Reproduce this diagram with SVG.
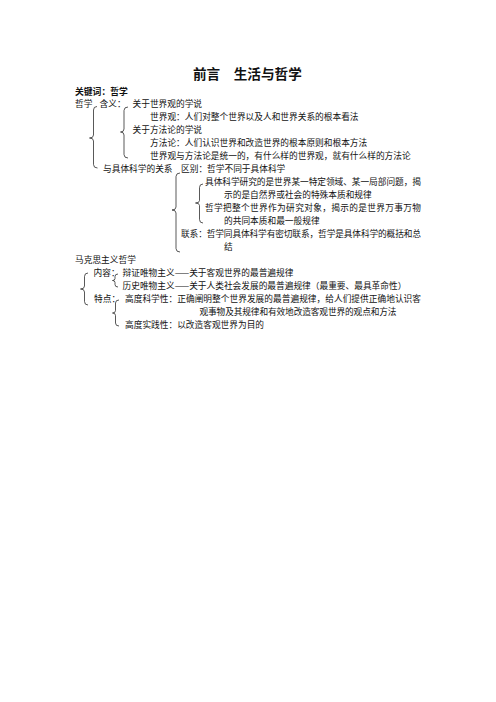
<svg xmlns="http://www.w3.org/2000/svg" width="496" height="702" viewBox="0 0 496 702">
<style>
text{font-family:"Noto Sans CJK SC","Noto Sans",sans-serif;fill:#111}
.t{font-size:8.7px}
.title{font-size:13.6px;font-weight:bold}
.kw{font-size:8.8px;font-weight:bold}
.br{fill:none;stroke:#111;stroke-width:0.7}
</style>
<rect width="496" height="702" fill="#fff"/>
<g id="title"><text class="title" x="193" y="78.5">前言　生活与哲学</text></g>
<g id="keyword"><text class="kw" x="75" y="95">关键词：哲学</text></g>
<g id="connectors">
<path class="br" d="M97,106.5 Q93.5,106.5 93.5,110 L93.5,135 Q93.5,138 89.5,138 Q93.5,138 93.5,141 L93.5,164.5 Q93.5,168 97.5,168"/>
<path class="br" d="M128,107 Q124,107 124,110.5 L124,129 Q124,132 120.5,132 Q124,132 124,135 L124,154.5 Q124,158 128,158"/>
<path class="br" d="M180,173 Q176,173 176,176.5 L176,207 Q176,210 172,210 Q176,210 176,213 L176,248.5 Q176,252 180,252"/>
<path class="br" d="M203,184 Q199.5,184 199.5,187.5 L199.5,200.5 Q199.5,203 195.5,203 Q199.5,203 199.5,205.5 L199.5,219.5 Q199.5,223 203,223"/>
<path class="br" d="M88,273 Q84.5,273 84.5,276.5 L84.5,286 Q84.5,289 80.5,289 Q84.5,289 84.5,292 L84.5,301.5 Q84.5,305 88,305"/>
<path class="br" d="M118,274 Q115,274 115,276.5 L115,278.5 Q115,280.5 112.5,280.5 Q115,280.5 115,282.5 L115,284.5 Q115,287 118,287"/>
<path class="br" d="M119,300 Q115.5,300 115.5,303 L115.5,310.5 Q115.5,313 112.5,313 Q115.5,313 115.5,315.5 L115.5,323 Q115.5,326 119,326"/>
</g>
<g id="philosophy"><text class="t" x="75" y="107.2">哲学</text></g>
<g id="meaning">
<text class="t" x="99.5" y="107.2">含义：</text>
</g>
<g id="worldview">
<text class="t" x="132.5" y="107.2">关于世界观的学说</text>
<text class="t" x="150" y="120.2">世界观：人们对整个世界以及人和世界关系的根本看法</text>
</g>
<g id="methodology">
<text class="t" x="132.5" y="133.2">关于方法论的学说</text>
<text class="t" x="150" y="146.2">方法论：人们认识世界和改造世界的根本原则和根本方法</text>
<text class="t" x="150" y="159.2">世界观与方法论是统一的，有什么样的世界观，就有什么样的方法论</text>
</g>
<g id="relation"><text class="t" x="103" y="172.2">与具体科学的关系</text></g>
<g id="difference">
<text class="t" x="181" y="172.2">区别：哲学不同于具体科学</text>
<text class="t" x="205" y="185.2" textLength="216" lengthAdjust="spacing">具体科学研究的是世界某一特定领域、某一局部问题，揭</text>
<text class="t" x="224" y="198.2">示的是自然界或社会的特殊本质和规律</text>
<text class="t" x="205" y="211.2" textLength="216" lengthAdjust="spacing">哲学把整个世界作为研究对象，揭示的是世界万事万物</text>
<text class="t" x="224" y="224.2">的共同本质和最一般规律</text>
</g>
<g id="connection">
<text class="t" x="181" y="237.2" textLength="240" lengthAdjust="spacing">联系：哲学同具体科学有密切联系，哲学是具体科学的概括和总</text>
<text class="t" x="224" y="250.2">结</text>
</g>
<g id="marxism"><text class="t" x="75" y="263.2">马克思主义哲学</text></g>
<g id="content">
<text class="t" x="93.5" y="276.2">内容：</text>
<text class="t" x="122.5" y="276.2">辩证唯物主义——关于客观世界的最普遍规律</text>
<text class="t" x="122.5" y="289.2">历史唯物主义——关于人类社会发展的最普遍规律（最重要、最具革命性）</text>
</g>
<g id="features">
<text class="t" x="94" y="302.2">特点：</text>
<text class="t" x="125" y="302.2" textLength="296" lengthAdjust="spacing">高度科学性：正确阐明整个世界发展的最普遍规律，给人们提供正确地认识客</text>
<text class="t" x="199.5" y="315.2" textLength="197" lengthAdjust="spacing">观事物及其规律和有效地改造客观世界的观点和方法</text>
<text class="t" x="125" y="328.2">高度实践性：以改造客观世界为目的</text>
</g>
</svg>
